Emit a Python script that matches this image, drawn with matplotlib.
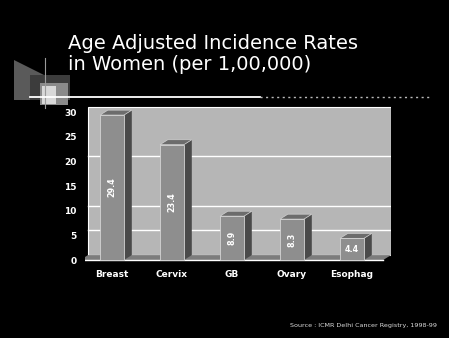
import numpy as np
import matplotlib
matplotlib.use("Agg")
import matplotlib.pyplot as plt
from matplotlib.patches import Polygon, Rectangle

## data
sites = ["Breast", "Cervix", "GB", "Ovary", "Esophag"]
rates = [29.4, 23.4, 8.9, 8.3, 4.4]
rate_labels = ["29.4", "23.4", "8.9", "8.3", "4.4"]
yticks = [0, 5, 10, 15, 20, 25, 30]
grid_vals = [5, 10, 20]

title = "Age Adjusted Incidence Rates\nin Women (per 1,00,000)"
source = "Source : ICMR Delhi Cancer Registry, 1998-99"

W, H = 449, 338
fig = plt.figure(figsize=(W / 100, H / 100), dpi=100, facecolor="black")

## decorative block top-left (pixel coords -> figure fraction)
def px_rect(x, y, w, h, **kw):
  fig.patches.append(Rectangle((x / W, 1 - (y + h) / H), w / W, h / H,
                               transform=fig.transFigure, **kw))

fig.patches.append(Polygon([(14 / W, 1 - 60 / H), (44 / W, 1 - 75 / H),
                            (44 / W, 1 - 100 / H), (14 / W, 1 - 100 / H)],
                           closed=True, transform=fig.transFigure,
                           facecolor="#5a5a5a", edgecolor="none"))
px_rect(30, 75, 40, 25, facecolor="#3c3c3c", edgecolor="none")
px_rect(40, 83, 28, 22, facecolor="#8a8a8a", edgecolor="none")
px_rect(42, 86, 14, 18, facecolor="#d8d8d8", edgecolor="none")
fig.lines.append(plt.Line2D([45 / W, 45 / W], [1 - 58 / H, 1 - 108 / H],
                            transform=fig.transFigure, color="#9a9a9a", lw=0.8))

## title
fig.text(68 / W, 1 - 34 / H, title, color="white", fontsize=14,
         va="top", ha="left", linespacing=1.15)

## rule under the title: solid then fading dots
fig.lines.append(plt.Line2D([30 / W, 260 / W], [1 - 97 / H, 1 - 97 / H],
                            transform=fig.transFigure, color="white", lw=1.3))
fig.lines.append(plt.Line2D([260 / W, 432 / W], [1 - 97 / H, 1 - 97 / H],
                            transform=fig.transFigure, color="#bbbbbb", lw=1.0,
                            ls=(0, (1.5, 2.5))))

## chart area
x0, x1 = -0.45, 4.65
y0, y1 = -0.4, 31.4
ax = fig.add_axes([85 / W, (H - 262) / H, 306 / W, (262 - 105.2) / H])
ax.set_xlim(x0, x1)
ax.set_ylim(y0, y1)
ax.set_facecolor("black")
for s in ax.spines.values():
  s.set_visible(False)

dx, dy = 0.13, 1.0
wall_l = x0 + 0.05
ax.add_patch(Rectangle((wall_l, dy), x1 - wall_l, 30, facecolor="#b6b6b6",
                       edgecolor="white", lw=0.8, zorder=1))
ax.add_patch(Polygon([(wall_l - dx, 0), (x1 - dx, 0), (x1, dy), (wall_l, dy)],
                     closed=True, facecolor="#7c7c7c", edgecolor="none", zorder=1))
for g in grid_vals:
  ax.plot([wall_l, x1], [g + dy, g + dy], color="white", lw=1.0, zorder=2)
ax.plot([wall_l - dx, x1 - dx], [0, 0], color="white", lw=1.0, zorder=2)
ax.plot([wall_l - dx, wall_l - dx], [0, 30], color="white", lw=0.8, zorder=2)

bw = 0.4
for i, (v, lab) in enumerate(zip(rates, rate_labels)):
  l, r = i - bw / 2, i + bw / 2
  ax.add_patch(Polygon([(r, 0), (r + dx, dy), (r + dx, v + dy), (r, v)],
                       closed=True, facecolor="#4a4a4a", edgecolor="none", zorder=3))
  ax.add_patch(Polygon([(l, v), (r, v), (r + dx, v + dy), (l + dx, v + dy)],
                       closed=True, facecolor="#6c6c6c", edgecolor="#d0d0d0",
                       lw=0.5, zorder=3))
  ax.add_patch(Rectangle((l, 0), bw, v, facecolor="#8e8e8e",
                         edgecolor="#d4d4d4", lw=0.6, zorder=4))
  rot = 90 if v > 6 else 0
  ax.text(i, v / 2, lab, color="white", fontsize=5.8, fontweight="bold",
          rotation=rot, ha="center", va="center", zorder=5)

ax.set_xticks(range(len(sites)))
ax.set_xticklabels(sites, color="white", fontsize=6.5, fontweight="bold")
ax.set_yticks(yticks)
ax.set_yticklabels([str(t) for t in yticks], color="white", fontsize=6.5,
                   fontweight="bold")
ax.tick_params(axis="both", length=0, pad=6)

fig.text(437 / W, 1 - 325 / H, source, color="#dddddd", fontsize=4.6,
         ha="right", va="center")

fig.savefig("out.png", dpi=100, facecolor="black")
